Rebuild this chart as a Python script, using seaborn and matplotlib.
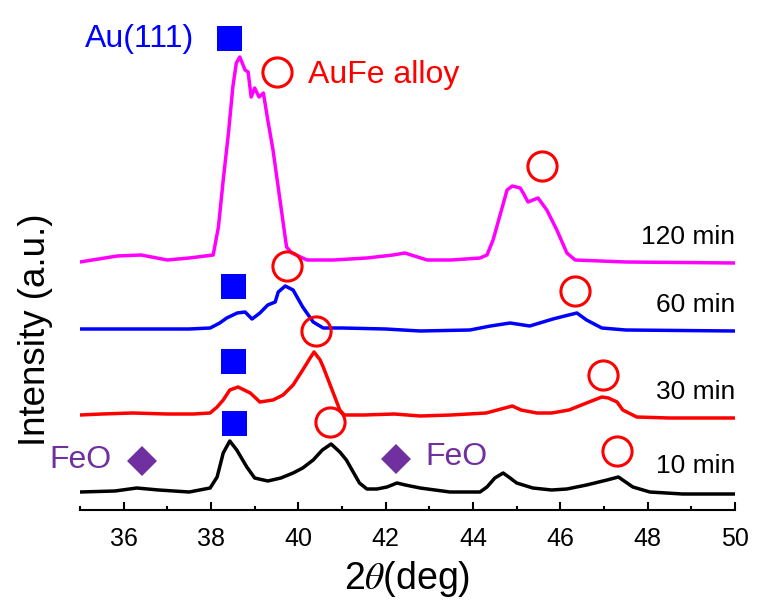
import numpy as np
import pandas as pd
import matplotlib
matplotlib.use("Agg")
import matplotlib.pyplot as plt
import seaborn as sns

# ---- data (2theta in deg, stacked intensity in a.u.) ----
x_10 = [35.0, 35.8, 36.3, 36.8, 37.5, 37.98, 38.14, 38.28, 38.43, 38.59, 38.82, 39.0, 39.3, 39.6,
        39.88, 40.1, 40.34, 40.55, 40.75, 40.95, 41.1, 41.4, 41.57, 41.8, 42.03, 42.26, 42.45,
        42.79, 43.47, 44.16, 44.32, 44.5, 44.69, 44.85, 45.0, 45.37, 45.8, 46.15, 46.6, 47.07,
        47.33, 47.66, 48.05, 48.8, 50.0]
y_10 = [18, 19, 22, 20, 18, 22, 33, 57, 69, 60, 43, 32, 29, 32,
        37, 42, 50, 60, 66, 58, 50, 27, 21, 21, 23, 27, 25,
        22, 18, 18, 23, 32, 37, 32, 27, 22, 20, 21, 25, 30,
        33, 23, 18, 16, 16]

x_30 = [35.0, 35.5, 36.2, 37.0, 37.6, 37.98, 38.14, 38.28, 38.43, 38.62, 38.9, 39.12, 39.42,
        39.65, 39.88, 40.1, 40.27, 40.36, 40.5, 40.57, 40.8, 40.95, 41.05, 41.5, 42.2, 42.79,
        43.5, 44.3, 44.9, 45.1, 45.46, 45.8, 46.2, 46.6, 46.95, 47.1, 47.3, 47.43, 47.75,
        48.5, 50.0]
y_30 = [95, 96, 97, 96, 96, 97, 103, 110, 120, 123, 117, 108, 110,
        115, 125, 140, 152, 158, 150, 143, 117, 100, 95, 95, 96, 94,
        95, 97, 104, 100, 97, 97, 100, 107, 113, 112, 108, 100, 93,
        92, 92]

x_60 = [35.0, 36.0, 36.6, 37.5, 37.98, 38.2, 38.36, 38.6, 38.78, 38.94, 39.12, 39.3, 39.47,
        39.54, 39.7, 39.88, 40.1, 40.34, 40.57, 41.0, 42.0, 42.79, 43.93, 44.4, 44.85, 45.3,
        45.83, 46.1, 46.38, 46.6, 46.95, 47.5, 50.0]
y_60 = [181, 181, 181, 181, 182, 187, 192, 197, 198, 191, 197, 205, 208,
        218, 224, 220, 203, 188, 182, 182, 181, 179, 180, 184, 187, 184,
        191, 194, 197, 190, 182, 180, 179]

x_120 = [35.0, 35.85, 36.4, 37.0, 37.5, 38.05, 38.17, 38.28, 38.4, 38.5, 38.58, 38.66, 38.78,
         38.85, 38.92, 39.0, 39.1, 39.2, 39.3, 39.42, 39.58, 39.73, 39.85, 40.2, 40.8, 41.57,
         42.17, 42.44, 42.95, 43.5, 44.16, 44.32, 44.46, 44.78, 44.9, 45.08, 45.15, 45.26,
         45.49, 45.69, 45.92, 46.15, 46.34, 47.5, 50.0]
y_120 = [248, 254, 255, 250, 252, 255, 283, 330, 377, 423, 447, 453, 440,
         438, 413, 422, 413, 417, 390, 360, 310, 263, 257, 250, 250, 252,
         255, 257, 250, 250, 252, 255, 270, 320, 324, 322, 317, 308,
         312, 300, 280, 257, 250, 248, 247]

series_names = ["10 min", "30 min", "60 min", "120 min"]
series_colors = ["#000000", "#FF0000", "#0000FF", "#FF00FF"]
label_y = [44, 118, 205, 273]

# phase markers (2theta, stacked intensity position)
au_x = [38.42, 38.5, 38.5, 38.52]
au_y = [472, 224, 149, 87]
aufe_x = [39.52, 39.75, 45.57, 40.40, 46.34, 40.73, 46.98, 47.30]
aufe_y = [438, 244, 344, 179, 219, 88, 135, 59]
feo_x = [36.42, 42.24]
feo_y = [49, 51]

frames = []
for name, xs, ys in zip(series_names, [x_10, x_30, x_60, x_120], [y_10, y_30, y_60, y_120]):
    frames.append(pd.DataFrame({"two_theta": xs, "intensity": ys, "time": name}))
df = pd.concat(frames, ignore_index=True)

sns.set_theme(style="white")
plt.rcParams["font.family"] = ["Liberation Sans", "DejaVu Sans"]
plt.rcParams["mathtext.fontset"] = "stix"

fig = plt.figure(figsize=(7.64, 6.10), dpi=100)
ax = fig.add_axes([80 / 764, 1 - 510 / 610, 655 / 764, 510 / 610])

sns.lineplot(data=df, x="two_theta", y="intensity", hue="time",
             palette=dict(zip(series_names, series_colors)), hue_order=series_names,
             linewidth=2.5, legend=False, ax=ax, sort=False, estimator=None)

ax.plot(au_x, au_y, linestyle="none", marker="s", markersize=18,
        color="#0000FF", markeredgewidth=0)
ax.plot(aufe_x, aufe_y, linestyle="none", marker="o", markersize=21,
        markerfacecolor="none", markeredgecolor="#FF0000", markeredgewidth=2.2)
ax.plot(feo_x, feo_y, linestyle="none", marker="D", markersize=15,
        color="#7030A0", markeredgewidth=0)

ax.text(35.11, 471, "Au(111)", color="#0000FF", fontsize=23, ha="left", va="center")
ax.text(40.22, 435, "AuFe alloy", color="#FF0000", fontsize=23, ha="left", va="center")
ax.text(34.31, 50, "FeO", color="#7030A0", fontsize=23, ha="left", va="center", clip_on=False)
ax.text(42.90, 53, "FeO", color="#7030A0", fontsize=23, ha="left", va="center")
for name, ly in zip(series_names, label_y):
    ax.text(50.0, ly, name, color="black", fontsize=19, ha="right", va="center")

ax.set_xlim(35, 50)
ax.set_ylim(0, 510)
ax.set_xticks(np.arange(36, 51, 2))
ax.set_xticks(np.arange(35, 51, 1), minor=True)
ax.set_yticks([])
ax.tick_params(axis="x", which="major", direction="in", length=6, width=1.5,
               labelsize=18, pad=12, bottom=True, color="black", labelcolor="black")
ax.tick_params(axis="x", which="minor", direction="in", length=3, width=1.5,
               bottom=True, color="black")
for s in ["top", "right", "left"]:
    ax.spines[s].set_visible(False)
ax.spines["bottom"].set_linewidth(1.5)
ax.spines["bottom"].set_color("black")
ax.set_xlabel(r"2$\it{\theta}$(deg)", fontsize=27, labelpad=6, color="black")
ax.set_ylabel("Intensity (a.u.)", fontsize=26.5, color="black")
ax.yaxis.set_label_coords(-0.041, 0.353)
ax.patch.set_alpha(0)

fig.savefig("out.png", dpi=100)
